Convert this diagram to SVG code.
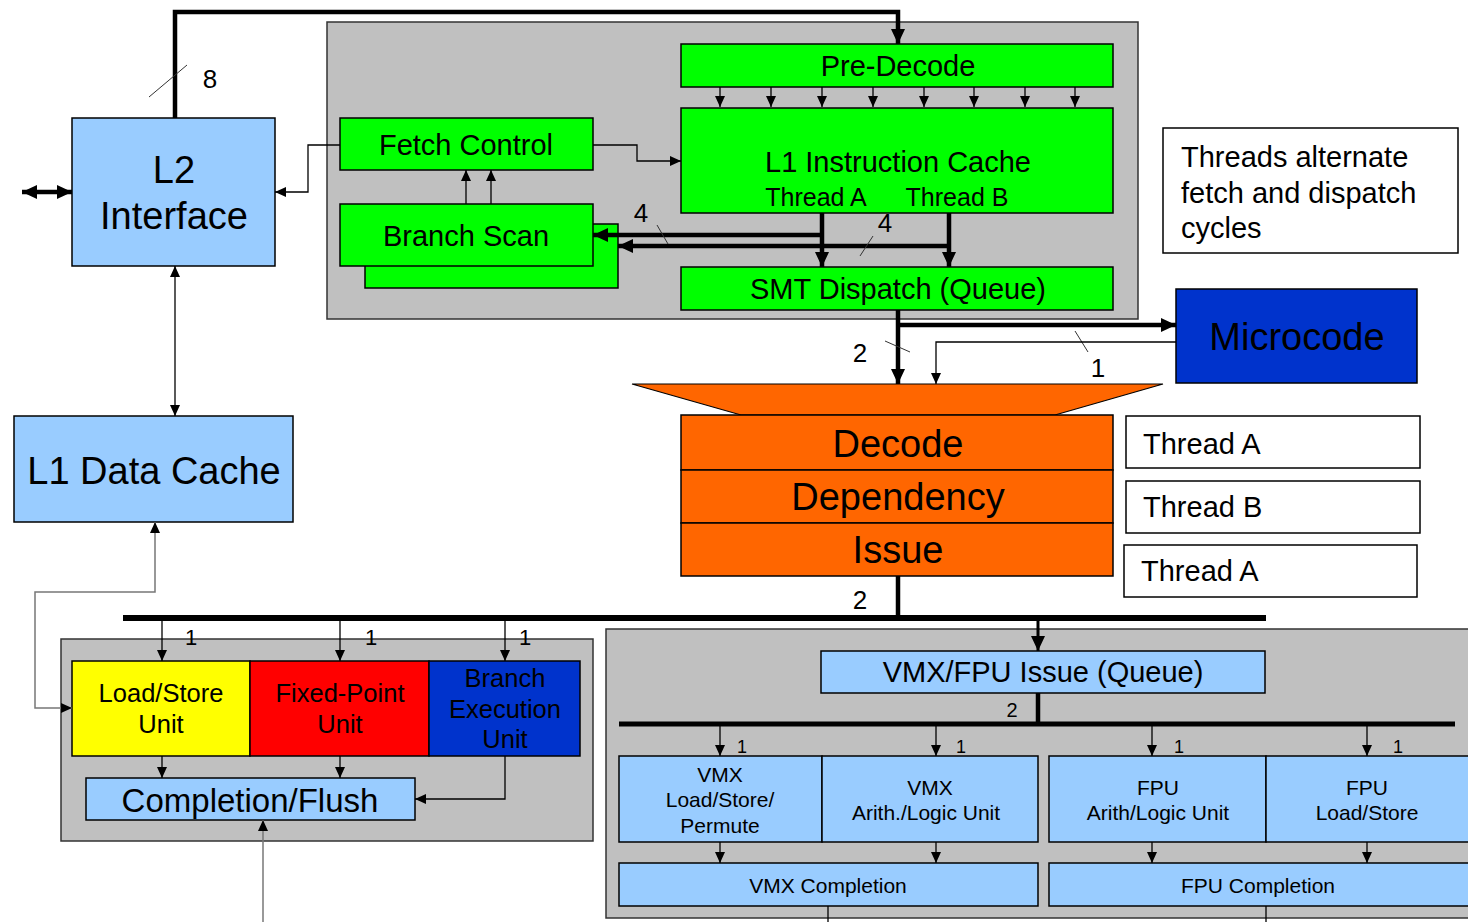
<svg xmlns="http://www.w3.org/2000/svg" width="1468" height="922" viewBox="0 0 1468 922">
  <defs>
    <marker id="ah" markerUnits="userSpaceOnUse" markerWidth="12" markerHeight="10" refX="11" refY="5" orient="auto-start-reverse">
      <path d="M0,0 L11,5 L0,10 z" fill="#000"/>
    </marker>
    <marker id="ahb" markerUnits="userSpaceOnUse" markerWidth="16" markerHeight="14" refX="15" refY="7" orient="auto-start-reverse">
      <path d="M0,0 L15,7 L0,14 z" fill="#000"/>
    </marker>
    <marker id="ahg" markerUnits="userSpaceOnUse" markerWidth="12" markerHeight="10" refX="11" refY="5" orient="auto-start-reverse">
      <path d="M0,0 L11,5 L0,10 z" fill="#000"/>
    </marker>
  </defs>
  <style>
    text { font-family: "Liberation Sans", Arial, sans-serif; fill: #000; }
    .c { text-anchor: middle; dominant-baseline: central; }
    .l { text-anchor: start; dominant-baseline: central; }
    .box { stroke: #000; stroke-width: 1.5; }
    .panel { fill: #c0c0c0; stroke: #333; stroke-width: 1.5; }
    .green { fill: #00ff00; }
    .blue { fill: #99ccff; }
    .orange { fill: #ff6600; }
    .white { fill: #fff; }
    .thin { fill: none; stroke: #000; stroke-width: 1.3; }
    .grayline { fill: none; stroke: #777; stroke-width: 1.5; }
    .thick { fill: none; stroke: #000; stroke-width: 4.5; }
    .bus { fill: none; stroke: #000; stroke-width: 6; }
    .tick { fill: none; stroke: #333; stroke-width: 1; }
    .f38 { font-size: 38px; }
    .f33 { font-size: 33px; }
    .f29 { font-size: 29px; }
    .f25 { font-size: 25.5px; }
    .f21 { font-size: 21px; }
    .n26 { font-size: 26px; }
    .n20 { font-size: 20px; }
  </style>

  <!-- background panels -->
  <rect id="fetch-panel" class="panel" x="327" y="22" width="811" height="297"/>
  <rect id="exec-panel" class="panel" x="61" y="639" width="532" height="202"/>
  <rect id="vmx-fpu-panel" class="panel" x="606" y="629" width="870" height="289"/>

  <g id="l2-interface">
    <rect class="box blue" x="72" y="118" width="203" height="148"/>
    <text class="c f38" x="174" y="170">L2</text>
    <text class="c f38" x="174" y="216">Interface</text>
  </g>
  <g id="l1-data-cache">
    <rect class="box blue" x="14" y="416" width="279" height="106"/>
    <text class="c f38" x="154" y="471">L1 Data Cache</text>
  </g>
  <g id="fetch-control">
    <rect class="box green" x="340" y="118" width="253" height="52"/>
    <text class="c f29" x="466" y="145">Fetch Control</text>
  </g>
  <g id="branch-scan">
    <rect class="box green" x="365" y="224" width="253" height="64"/>
    <rect class="box green" x="340" y="204" width="253" height="62"/>
    <text class="c f29" x="466" y="236">Branch Scan</text>
  </g>
  <g id="pre-decode">
    <rect class="box green" x="681" y="44" width="432" height="43"/>
    <text class="c f29" x="898" y="66">Pre-Decode</text>
  </g>
  <g id="l1-instruction-cache">
    <rect class="box green" x="681" y="108" width="432" height="105"/>
    <text class="c f29" x="898" y="162">L1 Instruction Cache</text>
    <text class="c" style="font-size:25px" x="816" y="197">Thread A</text>
    <text class="c" style="font-size:25px" x="957" y="197">Thread B</text>
  </g>
  <g id="smt-dispatch">
    <rect class="box green" x="681" y="267" width="432" height="43"/>
    <text class="c f29" x="898" y="289">SMT Dispatch (Queue)</text>
  </g>
  <g id="note-threads">
    <rect class="box white" x="1163" y="128" width="295" height="125"/>
    <text class="l f29" x="1181" y="157">Threads alternate</text>
    <text class="l f29" x="1181" y="193">fetch and dispatch</text>
    <text class="l f29" x="1181" y="228">cycles</text>
  </g>
  <g id="microcode">
    <rect class="box" fill="#0033cc" x="1176" y="289" width="241" height="94"/>
    <text class="c f38" x="1297" y="337">Microcode</text>
  </g>
  <g id="decode-stage">
    <polygon class="orange" stroke="#000" stroke-width="1.2" points="632,384 1163,384 1055,415 741,415"/>
    <rect class="box orange" x="681" y="415" width="432" height="55"/>
    <rect class="box orange" x="681" y="470" width="432" height="53"/>
    <rect class="box orange" x="681" y="523" width="432" height="53"/>
    <text class="c f38" x="898" y="444">Decode</text>
    <text class="c f38" x="898" y="497">Dependency</text>
    <text class="c f38" x="898" y="550">Issue</text>
  </g>
  <g id="thread-labels">
    <rect class="box white" x="1126" y="416" width="294" height="52"/>
    <text class="l f29" x="1143" y="444">Thread A</text>
    <rect class="box white" x="1126" y="481" width="294" height="52"/>
    <text class="l f29" x="1143" y="507">Thread B</text>
    <rect class="box white" x="1124" y="545" width="293" height="52"/>
    <text class="l f29" x="1141" y="571">Thread A</text>
  </g>

  <g id="load-store-unit">
    <rect class="box" fill="#ffff00" x="72" y="661" width="178" height="95"/>
    <text class="c f25" x="161" y="693">Load/Store</text>
    <text class="c f25" x="161" y="724">Unit</text>
  </g>
  <g id="fixed-point-unit">
    <rect class="box" fill="#ff0000" x="250" y="661" width="179" height="95"/>
    <text class="c f25" x="340" y="693">Fixed-Point</text>
    <text class="c f25" x="340" y="724">Unit</text>
  </g>
  <g id="branch-execution-unit">
    <rect class="box" fill="#0033cc" x="429" y="661" width="151" height="95"/>
    <text class="c f25" x="505" y="678">Branch</text>
    <text class="c f25" x="505" y="709">Execution</text>
    <text class="c f25" x="505" y="739">Unit</text>
  </g>
  <g id="completion-flush">
    <rect class="box blue" x="86" y="778" width="329" height="42"/>
    <text class="c f33" x="250" y="800">Completion/Flush</text>
  </g>

  <g id="vmx-fpu-issue">
    <rect class="box blue" x="821" y="651" width="444" height="42"/>
    <text class="c f29" x="1043" y="672">VMX/FPU Issue (Queue)</text>
  </g>
  <g id="vmx-load-store">
    <rect class="box blue" x="619" y="756" width="203" height="86"/>
    <text class="c f21" x="720" y="774">VMX</text>
    <text class="c f21" x="720" y="799">Load/Store/</text>
    <text class="c f21" x="720" y="825">Permute</text>
  </g>
  <g id="vmx-alu">
    <rect class="box blue" x="822" y="756" width="216" height="86"/>
    <text class="c f21" x="930" y="787">VMX</text>
    <text class="c f21" x="926" y="812">Arith./Logic Unit</text>
  </g>
  <g id="fpu-alu">
    <rect class="box blue" x="1049" y="756" width="217" height="86"/>
    <text class="c f21" x="1158" y="787">FPU</text>
    <text class="c f21" x="1158" y="812">Arith/Logic Unit</text>
  </g>
  <g id="fpu-load-store">
    <rect class="box blue" x="1266" y="756" width="210" height="86"/>
    <text class="c f21" x="1367" y="787">FPU</text>
    <text class="c f21" x="1367" y="812">Load/Store</text>
  </g>
  <g id="vmx-completion">
    <rect class="box blue" x="619" y="863" width="419" height="43"/>
    <text class="c f21" x="828" y="885">VMX Completion</text>
  </g>
  <g id="fpu-completion">
    <rect class="box blue" x="1049" y="863" width="427" height="43"/>
    <text class="c f21" x="1258" y="885">FPU Completion</text>
  </g>

  <g id="connectors">
    <!-- L2 to pre-decode, 8 wide -->
    <path class="thick" d="M175,118 V12 H898 V44" marker-end="url(#ahb)"/>
    <line class="tick" x1="149" y1="97" x2="187" y2="65"/>
    <text class="c n26" x="210" y="79">8</text>
    <!-- external port -->
    <line class="thick" x1="22" y1="192" x2="72" y2="192" marker-start="url(#ahb)" marker-end="url(#ahb)"/>
    <!-- L2 <-> L1 data cache -->
    <line class="thin" x1="175" y1="266" x2="175" y2="416" marker-start="url(#ah)" marker-end="url(#ah)"/>
    <!-- fetch control paths -->
    <path class="thin" d="M340,145 H308 V192 H275" marker-end="url(#ah)"/>
    <path class="thin" d="M593,145 H637 V161 H681" marker-end="url(#ah)"/>
    <line class="thin" x1="466" y1="204" x2="466" y2="170" marker-end="url(#ah)"/>
    <line class="thin" x1="491" y1="204" x2="491" y2="170" marker-end="url(#ah)"/>
    <!-- pre-decode to L1 I-cache -->
    <g class="thin">
      <line x1="720" y1="87" x2="720" y2="107" marker-end="url(#ah)"/>
      <line x1="771" y1="87" x2="771" y2="107" marker-end="url(#ah)"/>
      <line x1="822" y1="87" x2="822" y2="107" marker-end="url(#ah)"/>
      <line x1="873" y1="87" x2="873" y2="107" marker-end="url(#ah)"/>
      <line x1="924" y1="87" x2="924" y2="107" marker-end="url(#ah)"/>
      <line x1="974" y1="87" x2="974" y2="107" marker-end="url(#ah)"/>
      <line x1="1025" y1="87" x2="1025" y2="107" marker-end="url(#ah)"/>
      <line x1="1075" y1="87" x2="1075" y2="107" marker-end="url(#ah)"/>
    </g>
    <!-- thread outputs to dispatch and branch scan -->
    <line class="thick" x1="822" y1="213" x2="822" y2="267" marker-end="url(#ahb)"/>
    <line class="thick" x1="949" y1="213" x2="949" y2="267" marker-end="url(#ahb)"/>
    <line class="thick" x1="822" y1="235" x2="593" y2="235" marker-end="url(#ahb)"/>
    <line class="thick" x1="949" y1="246" x2="618" y2="246" marker-end="url(#ahb)"/>
    <line class="tick" x1="657" y1="225" x2="668" y2="244"/>
    <text class="c n26" x="641" y="213">4</text>
    <line class="tick" x1="860" y1="256" x2="873" y2="236"/>
    <text class="c n26" x="885" y="223">4</text>
    <!-- dispatch to decode and microcode -->
    <line class="thick" x1="898" y1="310" x2="898" y2="384" marker-end="url(#ahb)"/>
    <line class="thick" x1="898" y1="325" x2="1176" y2="325" marker-end="url(#ahb)"/>
    <line class="tick" x1="885" y1="341" x2="910" y2="352"/>
    <text class="c n26" x="860" y="353">2</text>
    <line class="tick" x1="1075" y1="331" x2="1088" y2="352"/>
    <text class="c n26" x="1098" y="368">1</text>
    <path class="thin" d="M1176,342 H936 V384" marker-end="url(#ah)"/>
    <!-- issue bus -->
    <line class="thick" x1="898" y1="576" x2="898" y2="618"/>
    <text class="c n26" x="860" y="600">2</text>
    <line class="bus" x1="123" y1="618" x2="1266" y2="618"/>
    <line class="thin" x1="162" y1="618" x2="162" y2="661" marker-end="url(#ah)"/>
    <line class="thin" x1="340" y1="618" x2="340" y2="661" marker-end="url(#ah)"/>
    <line class="thin" x1="505" y1="618" x2="505" y2="661" marker-end="url(#ah)"/>
    <text class="c" style="font-size:22px" x="191" y="637">1</text>
    <text class="c" style="font-size:22px" x="371" y="637">1</text>
    <text class="c" style="font-size:22px" x="525" y="637">1</text>
    <line class="thick" x1="1038" y1="618" x2="1038" y2="651" style="stroke-width:3" marker-end="url(#ahb)"/>
    <!-- load/store unit to L1 data cache -->
    <path class="grayline" d="M72,708 H35 V592 H155 V522" marker-start="url(#ahg)" marker-end="url(#ahg)"/>
    <!-- execution units to completion/flush -->
    <line class="thin" x1="162" y1="756" x2="162" y2="778" marker-end="url(#ah)"/>
    <line class="thin" x1="340" y1="756" x2="340" y2="778" marker-end="url(#ah)"/>
    <path class="thin" d="M505,756 V799 H415" marker-end="url(#ah)"/>
    <line class="grayline" x1="263" y1="922" x2="263" y2="820" marker-end="url(#ahg)"/>
    <!-- VMX/FPU issue bus -->
    <line class="thick" x1="1038" y1="693" x2="1038" y2="724"/>
    <text class="c n20" x="1012" y="710">2</text>
    <line class="bus" style="stroke-width:5" x1="619" y1="724" x2="1455" y2="724"/>
    <g class="thin">
      <line x1="720" y1="724" x2="720" y2="756" marker-end="url(#ah)"/>
      <line x1="936" y1="724" x2="936" y2="756" marker-end="url(#ah)"/>
      <line x1="1152" y1="724" x2="1152" y2="756" marker-end="url(#ah)"/>
      <line x1="1367" y1="724" x2="1367" y2="756" marker-end="url(#ah)"/>
      <line x1="720" y1="842" x2="720" y2="863" marker-end="url(#ah)"/>
      <line x1="936" y1="842" x2="936" y2="863" marker-end="url(#ah)"/>
      <line x1="1152" y1="842" x2="1152" y2="863" marker-end="url(#ah)"/>
      <line x1="1367" y1="842" x2="1367" y2="863" marker-end="url(#ah)"/>
      <line x1="828" y1="906" x2="828" y2="922"/>
      <line x1="1266" y1="906" x2="1266" y2="922"/>
    </g>
    <text class="c" style="font-size:18px" x="742" y="747">1</text>
    <text class="c" style="font-size:18px" x="961" y="747">1</text>
    <text class="c" style="font-size:18px" x="1179" y="747">1</text>
    <text class="c" style="font-size:18px" x="1398" y="747">1</text>
  </g>
</svg>
